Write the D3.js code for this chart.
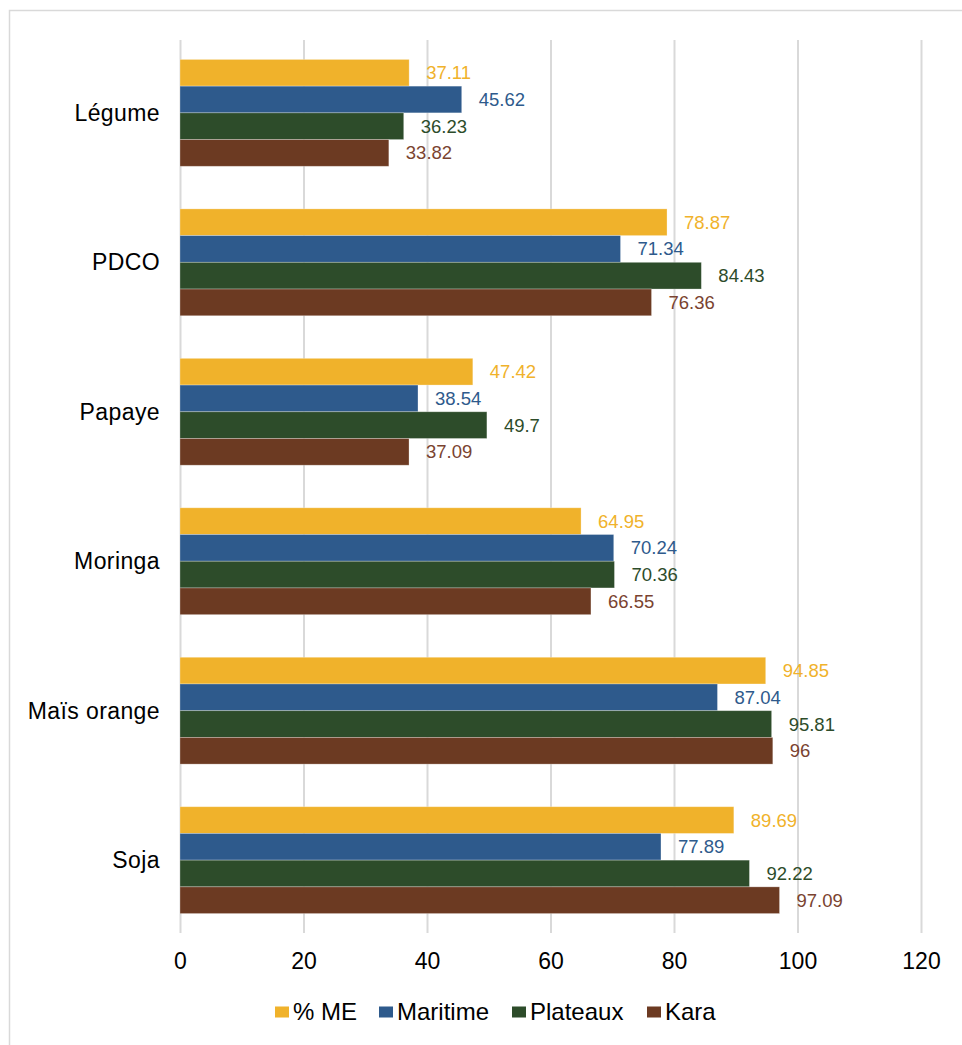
<!DOCTYPE html>
<html><head><meta charset="utf-8">
<script src="https://cdn.jsdelivr.net/npm/d3@7"></script>
<style>body{margin:0;background:#fff;}svg{display:block;font-family:"Liberation Sans",Arial,sans-serif;}</style>
</head><body>
<svg id="c" width="962" height="1045"></svg>
<script>
const categories = ["Légume","PDCO","Papaye","Moringa","Maïs orange","Soja"];
const seriesNames = ["% ME","Maritime","Plateaux","Kara"];
const valuesME = [37.11,78.87,47.42,64.95,94.85,89.69];
const valuesMaritime = [45.62,71.34,38.54,70.24,87.04,77.89];
const valuesPlateaux = [36.23,84.43,49.7,70.36,95.81,92.22];
const valuesKara = [33.82,76.36,37.09,66.55,96,97.09];
const xTicks = [0,20,40,60,80,100,120];
const colors = ["#F0B22B","#2E5A8C","#2D4C2A","#6C3A22"];
const labelColors = ["#F0B22B","#2E5A8C","#2D4C2A","#7A4330"];

(function(){
const series = [valuesME,valuesMaritime,valuesPlateaux,valuesKara];
const svg = d3.select("#c");
svg.append("rect").attr("x",9.5).attr("y",10.5).attr("width",970).attr("height",1050)
  .attr("fill","none").attr("stroke","#d9d9d9").attr("stroke-width",1.5);

const pL=180, pR=921, pT=40, pB=933;
const x = d3.scaleLinear().domain([0,120]).range([pL,pR]);
const y = d3.scaleBand().domain(categories).range([pT,pB]).paddingInner(0.285).paddingOuter(0.13);
const y1 = d3.scaleBand().domain(seriesNames).range([0,y.bandwidth()]);

svg.append("g").selectAll("line").data(xTicks).join("line")
  .attr("x1",d=>x(d)+0.5).attr("x2",d=>x(d)+0.5).attr("y1",pT).attr("y2",pB)
  .attr("stroke","#d9d9d9").attr("stroke-width",2);

const g = svg.append("g");
categories.forEach((c,i)=>{
  series.forEach((s,j)=>{
    g.append("rect").attr("x",x(0)).attr("y",y(c)+y1(seriesNames[j]))
      .attr("width",x(s[i])-x(0)).attr("height",y1.bandwidth())
      .attr("fill",colors[j]).attr("stroke","#ffffff").attr("stroke-opacity",0.35).attr("stroke-width",0.8);
    g.append("text").attr("x",x(s[i])+17).attr("y",y(c)+y1(seriesNames[j])+y1.bandwidth()/2)
      .attr("dy","0.35em").attr("font-size",18.5).attr("fill",labelColors[j]).text(s[i]);
  });
});

svg.append("g").selectAll("text").data(categories).join("text")
  .attr("x",160).attr("y",d=>y(d)+y.bandwidth()/2).attr("dy","0.35em")
  .attr("text-anchor","end").attr("font-size",23).attr("letter-spacing",0.4).attr("fill","#000").text(d=>d);

const xa = svg.append("g").attr("transform",`translate(0,${pB})`)
  .call(d3.axisBottom(x).tickValues(xTicks).tickSize(0).tickPadding(20));
xa.select(".domain").remove();
xa.selectAll("text").attr("font-size",23).attr("fill","#000").attr("font-family","Liberation Sans, Arial, sans-serif");

const legX = [275,379,512,647];
const leg = svg.append("g");
seriesNames.forEach((n,j)=>{
  leg.append("rect").attr("x",legX[j]).attr("y",1006.5).attr("width",14).attr("height",11).attr("fill",colors[j]);
  leg.append("text").attr("x",legX[j]+18).attr("y",1020).attr("font-size",24).attr("fill","#000").text(n);
});
})();
</script>
</body></html>
